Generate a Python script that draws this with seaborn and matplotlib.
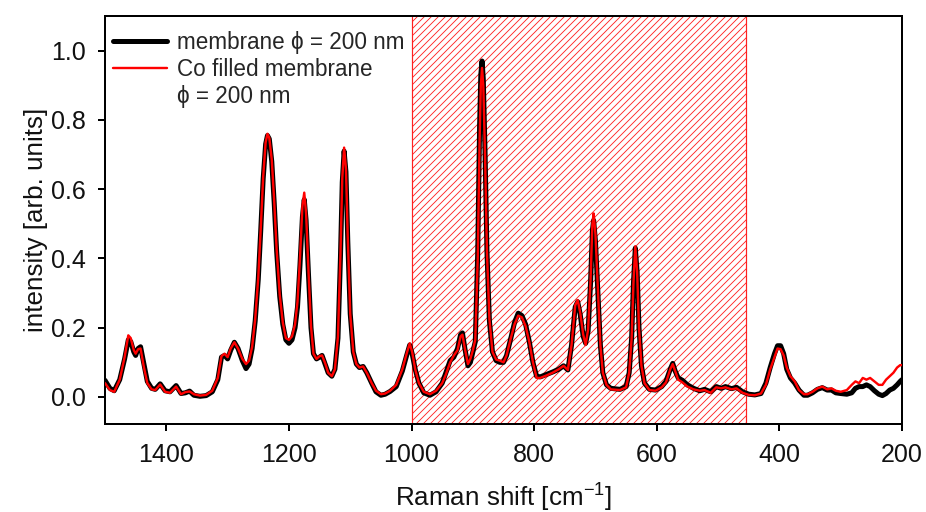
import matplotlib
matplotlib.use("Agg")
import matplotlib.pyplot as plt
import matplotlib.ticker as mticker
from matplotlib.lines import Line2D
from matplotlib.patches import Rectangle
import seaborn as sns
import pandas as pd

# Raman shift [cm^-1] sample positions
wavenumber = [
    1500, 1492, 1485, 1476, 1468, 1462, 1458, 1453, 1450, 1446, 1442, 1437, 1431, 1424,
    1418, 1410, 1402, 1394, 1384, 1376, 1369, 1362, 1355, 1345, 1335, 1325, 1316, 1310,
    1305, 1300, 1295, 1289, 1283, 1276, 1270, 1265, 1260, 1255, 1250, 1246, 1242, 1238,
    1235, 1232, 1228, 1224, 1220, 1215, 1210, 1205, 1200, 1195, 1190, 1186, 1182, 1178,
    1175, 1172, 1168, 1164, 1160, 1155, 1150, 1146, 1141, 1136, 1130, 1125, 1120, 1116,
    1113, 1110, 1107, 1104, 1100, 1095, 1090, 1085, 1079, 1073, 1065, 1058, 1050, 1043,
    1035, 1025, 1015, 1008, 1003, 999, 994, 988, 980, 970, 960, 950, 944, 937,
    931, 925, 920, 917, 913, 908, 904, 900, 896, 892, 889, 887, 885, 883,
    880, 877, 873, 868, 862, 856, 850, 845, 838, 832, 826, 820, 814, 808,
    802, 796, 790, 780, 770, 760, 752, 745, 739, 733, 729, 725, 720, 716,
    712, 708, 705, 703, 700, 696, 692, 688, 682, 675, 660, 650, 645, 641,
    638, 635, 632, 629, 625, 620, 612, 602, 592, 585, 578, 574, 570, 565,
    558, 550, 540, 530, 522, 512, 503, 495, 488, 478, 470, 460, 450, 440,
    430, 422, 415, 408, 403, 398, 393, 388, 382, 375, 368, 360, 354, 346,
    338, 330, 322, 315, 308, 300, 290, 282, 276, 270, 264, 258, 252, 245,
    238, 232, 226, 220, 214, 208, 203, 200,
]

# intensity of the empty membrane
membrane = [
    0.048, 0.025, 0.018, 0.050, 0.110, 0.165, 0.160, 0.130, 0.120, 0.140, 0.145, 0.100, 0.045, 0.025,
    0.022, 0.038, 0.018, 0.015, 0.033, 0.010, 0.012, 0.017, 0.005, 0.002, 0.004, 0.015, 0.050, 0.115,
    0.120, 0.110, 0.135, 0.158, 0.140, 0.105, 0.082, 0.095, 0.140, 0.220, 0.340, 0.480, 0.630, 0.730,
    0.755, 0.745, 0.680, 0.560, 0.420, 0.290, 0.210, 0.165, 0.155, 0.165, 0.200, 0.260, 0.380, 0.520,
    0.570, 0.510, 0.350, 0.200, 0.125, 0.110, 0.115, 0.120, 0.095, 0.070, 0.060, 0.080, 0.170, 0.400,
    0.620, 0.710, 0.650, 0.450, 0.240, 0.130, 0.095, 0.085, 0.088, 0.070, 0.040, 0.015, 0.005, 0.008,
    0.016, 0.030, 0.075, 0.120, 0.150, 0.125, 0.080, 0.040, 0.012, 0.005, 0.015, 0.040, 0.070, 0.105,
    0.115, 0.140, 0.180, 0.185, 0.140, 0.090, 0.100, 0.130, 0.160, 0.420, 0.780, 0.930, 0.970, 0.920,
    0.700, 0.420, 0.220, 0.130, 0.105, 0.100, 0.100, 0.120, 0.170, 0.215, 0.242, 0.235, 0.210, 0.160,
    0.100, 0.060, 0.058, 0.065, 0.072, 0.080, 0.090, 0.078, 0.150, 0.260, 0.275, 0.240, 0.175, 0.155,
    0.190, 0.330, 0.480, 0.510, 0.450, 0.300, 0.150, 0.070, 0.035, 0.025, 0.022, 0.030, 0.070, 0.170,
    0.330, 0.430, 0.360, 0.200, 0.090, 0.040, 0.022, 0.020, 0.030, 0.045, 0.080, 0.097, 0.075, 0.055,
    0.048, 0.035, 0.025, 0.018, 0.022, 0.015, 0.030, 0.025, 0.030, 0.024, 0.028, 0.015, 0.008, 0.006,
    0.010, 0.040, 0.085, 0.125, 0.148, 0.148, 0.125, 0.080, 0.055, 0.040, 0.020, 0.005, 0.005, 0.012,
    0.022, 0.027, 0.020, 0.020, 0.012, 0.010, 0.008, 0.012, 0.025, 0.030, 0.030, 0.035, 0.030, 0.018,
    0.008, 0.004, 0.010, 0.020, 0.025, 0.035, 0.045, 0.050,
]

# intensity of the Co filled membrane
co_filled = [
    0.040, 0.020, 0.015, 0.050, 0.115, 0.178, 0.170, 0.135, 0.125, 0.138, 0.140, 0.090, 0.040, 0.022,
    0.020, 0.036, 0.015, 0.012, 0.030, 0.008, 0.014, 0.016, 0.008, 0.004, 0.006, 0.018, 0.055, 0.118,
    0.125, 0.115, 0.140, 0.158, 0.140, 0.110, 0.095, 0.105, 0.145, 0.225, 0.345, 0.485, 0.635, 0.735,
    0.760, 0.748, 0.685, 0.565, 0.425, 0.295, 0.215, 0.170, 0.165, 0.175, 0.210, 0.275, 0.400, 0.550,
    0.590, 0.530, 0.360, 0.205, 0.125, 0.110, 0.118, 0.120, 0.098, 0.070, 0.060, 0.080, 0.175, 0.410,
    0.630, 0.720, 0.660, 0.460, 0.240, 0.130, 0.095, 0.085, 0.088, 0.070, 0.040, 0.018, 0.008, 0.010,
    0.018, 0.035, 0.080, 0.125, 0.155, 0.130, 0.080, 0.040, 0.015, 0.008, 0.018, 0.040, 0.065, 0.100,
    0.120, 0.135, 0.175, 0.180, 0.140, 0.095, 0.110, 0.135, 0.165, 0.400, 0.740, 0.900, 0.950, 0.900,
    0.690, 0.420, 0.225, 0.130, 0.108, 0.105, 0.100, 0.120, 0.170, 0.210, 0.235, 0.230, 0.205, 0.160,
    0.100, 0.055, 0.055, 0.062, 0.070, 0.080, 0.090, 0.078, 0.150, 0.265, 0.280, 0.245, 0.180, 0.150,
    0.195, 0.340, 0.500, 0.530, 0.470, 0.310, 0.150, 0.070, 0.035, 0.022, 0.020, 0.028, 0.070, 0.170,
    0.330, 0.435, 0.360, 0.200, 0.090, 0.040, 0.020, 0.018, 0.028, 0.042, 0.080, 0.095, 0.075, 0.050,
    0.042, 0.030, 0.022, 0.018, 0.020, 0.012, 0.028, 0.025, 0.028, 0.022, 0.025, 0.012, 0.006, 0.005,
    0.010, 0.035, 0.080, 0.115, 0.140, 0.138, 0.120, 0.085, 0.060, 0.045, 0.020, 0.008, 0.008, 0.015,
    0.025, 0.030, 0.022, 0.025, 0.018, 0.015, 0.020, 0.035, 0.045, 0.040, 0.055, 0.050, 0.055, 0.045,
    0.035, 0.035, 0.050, 0.060, 0.070, 0.085, 0.092, 0.092,
]

# spectral window highlighted by hatching
window_start, window_end = 1000, 455

x_ticks = [1400, 1200, 1000, 800, 600, 400, 200]
y_ticks = [0.0, 0.2, 0.4, 0.6, 0.8, 1.0]

label_membrane = "membrane \u03d5 = 200 nm"
label_co_1 = "Co filled membrane"
label_co_2 = "\u03d5 = 200 nm"

DPI = 84
def pt(px):
    return px * 72.0 / DPI

sns.set_theme(style="ticks")
plt.rcParams["font.family"] = ["Liberation Sans", "DejaVu Sans"]
plt.rcParams["mathtext.fontset"] = "custom"
plt.rcParams["mathtext.rm"] = "Liberation Sans"
plt.rcParams["hatch.linewidth"] = pt(0.85)
plt.rcParams["hatch.color"] = "#ff3a3a"

df = pd.DataFrame({"wavenumber": wavenumber, "membrane": membrane, "co": co_filled})

fig = plt.figure(figsize=(926 / DPI, 512 / DPI), dpi=DPI)
ax = fig.add_axes([105 / 926, 1 - 424 / 512, (902 - 105) / 926, (424 - 16) / 512])

ax.add_patch(Rectangle((window_end, -1), window_start - window_end, 3,
                       facecolor="none", edgecolor="#ff2020", hatch="////",
                       linewidth=pt(1.2), zorder=1))

sns.lineplot(data=df, x="wavenumber", y="membrane", ax=ax, color="black",
             linewidth=pt(5), estimator=None, sort=False, zorder=3)
sns.lineplot(data=df, x="wavenumber", y="co", ax=ax, color="#ff0000",
             linewidth=pt(2.4), estimator=None, sort=False, zorder=4)

ax.set_xlim(1500, 200)
ax.set_ylim(-0.078, 1.10)
ax.set_xticks(x_ticks)
ax.set_yticks(y_ticks)
ax.yaxis.set_major_formatter(mticker.FormatStrFormatter("%.1f"))

tick_fs = pt(25)
label_fs = pt(26)
ax.tick_params(axis="both", direction="out", length=pt(7), width=pt(2),
               color="black", labelsize=tick_fs, labelcolor="#111111", pad=pt(12))
for s in ax.spines.values():
    s.set_linewidth(pt(2))
    s.set_color("black")

ax.set_xlabel(r"Raman shift [cm$^{\mathregular{-1}}$]", fontsize=label_fs, color="#111111", labelpad=pt(13))
ax.set_ylabel("intensity [arb. units]", fontsize=label_fs, color="#111111", labelpad=pt(3))

legend_fs = pt(22.5)
handles = [
    Line2D([], [], color="black", linewidth=pt(5)),
    Line2D([], [], color="#ff0000", linewidth=pt(2.4)),
    Line2D([], [], color="none"),
]
ax.legend(handles, [label_membrane, label_co_1, label_co_2],
          loc="upper left", bbox_to_anchor=(8 / 797, 1 - 15 / 408),
          borderaxespad=0, borderpad=0, frameon=False, fontsize=legend_fs,
          handlelength=2.4, handletextpad=0.45, labelspacing=0.17)

fig.savefig("out.png", dpi=DPI)
